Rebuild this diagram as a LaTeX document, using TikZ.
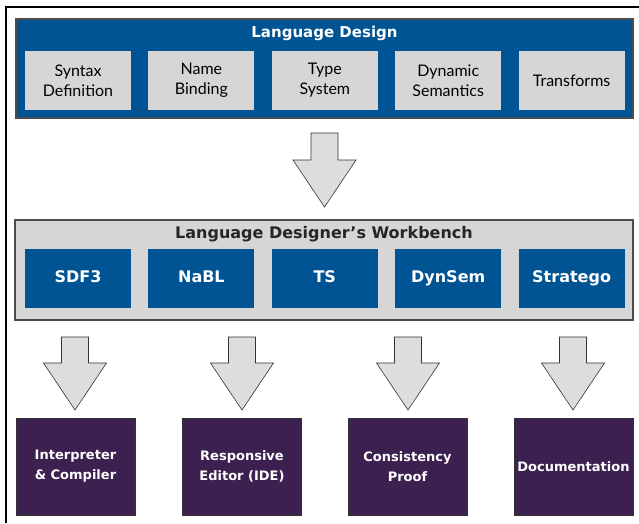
\documentclass[tikz,border=0pt]{standalone}
\usepackage{fontspec}
\setmainfont{Lato}
\newfontfamily\heavyfont{DejaVu Sans}
\usetikzlibrary{positioning}

\definecolor{ldblue}{RGB}{0,84,147}
\definecolor{ldgray}{RGB}{214,214,214}
\definecolor{ldpurple}{RGB}{60,32,80}
\definecolor{arrowgray}{RGB}{220,221,223}

\tikzset{
  frame/.style={draw=gray!60!black, line width=1.2pt},
  topitem/.style={fill=ldgray, minimum width=106pt, minimum height=59pt, inner sep=0pt,
    align=center, font=\fontsize{16}{20}\selectfont},
  toolitem/.style={fill=ldblue, text=white, minimum width=106pt, minimum height=59pt, inner sep=0pt,
    text height=12pt, text depth=3.5pt, align=center, font=\heavyfont\bfseries\fontsize{16}{20}\selectfont},
  outitem/.style={fill=ldpurple, draw=black!80, text=white, minimum width=119pt, minimum height=97pt,
    inner sep=0pt, align=center, font=\heavyfont\bfseries\fontsize{13}{20}\selectfont},
  bigarrow/.style={fill=arrowgray, draw=black!80, line width=0.6pt, line join=miter}
}

\begin{document}
\begin{tikzpicture}[x=1pt,y=-1pt]
	\useasboundingbox (0,0) rectangle (639,523);
	% Outer frame
	\draw[line width=1.2pt] (639,7) -- (6,7) -- (6,523);
	
	% Language design
	\node[frame, fill=ldblue, minimum width=617pt, minimum height=99pt] (design) at (324.5,68.5) {};
	\node[text=white, font=\heavyfont\bfseries\fontsize{15}{20}\selectfont] (designtitle) at (324.5,33) {Language Design};
	\node[topitem] (syntax) at (78,80.5) {Syntax\\Definition};
	\node[topitem, right=17pt of syntax] (names) {Name\\Binding};
	\node[topitem, right=17pt of names] (types) {Type\\System};
	\node[topitem, right=17pt of types] (dynamic) {Dynamic\\Semantics};
	\node[topitem, right=17pt of dynamic] (transforms) {Transforms};
	
	% Workbench
	\node[frame, fill=ldgray, minimum width=618pt, minimum height=100pt] (workbench) at (324,270) {};
	\node[text=black!85, font=\heavyfont\bfseries\fontsize{16}{20}\selectfont] (wbtitle) at (324,234) {Language Designer’s Workbench};
	\node[toolitem] (sdf) at (78,278.5) {SDF3};
	\node[toolitem, right=17pt of sdf] (nabl) {NaBL};
	\node[toolitem, right=17pt of nabl] (ts) {TS};
	\node[toolitem, right=17pt of ts] (dynsem) {DynSem};
	\node[toolitem, right=17pt of dynsem] (stratego) {Stratego};
	
	% Results
	\node[outitem] (interp) at (75.5,466.5) {Interpreter\\\& Compiler};
	\node[outitem] (editor) at (242,466.5) {Responsive\\Editor (IDE)};
	\node[outitem] (proof) at (407.5,466.5) {Consistency\\Proof};
	\node[outitem] (doc) at (573.5,466.5) {Documentation};
	
	% Block arrows
	\coordinate (mtop) at (324.5,133); \coordinate (mtip) at (324.5,207);
	\draw[bigarrow] (mtop) ++(-13.5,0) -- ++(27,0) -- ++(0,27) -- ++(18,0) -- (mtip)
	-- ++(-31.5,-47) -- ++(18,0) -- cycle;
	\foreach \name/\x in {a/75,b/242,c/408,d/573} {
		\coordinate (\name top) at (\x,337); \coordinate (\name tip) at (\x,410);
		\draw[bigarrow] (\name top) ++(-13.5,0) -- ++(27,0) -- ++(0,26) -- ++(18,0) -- (\name tip)
		-- ++(-31.5,-47) -- ++(18,0) -- cycle;
	}
\end{tikzpicture}
\end{document}
